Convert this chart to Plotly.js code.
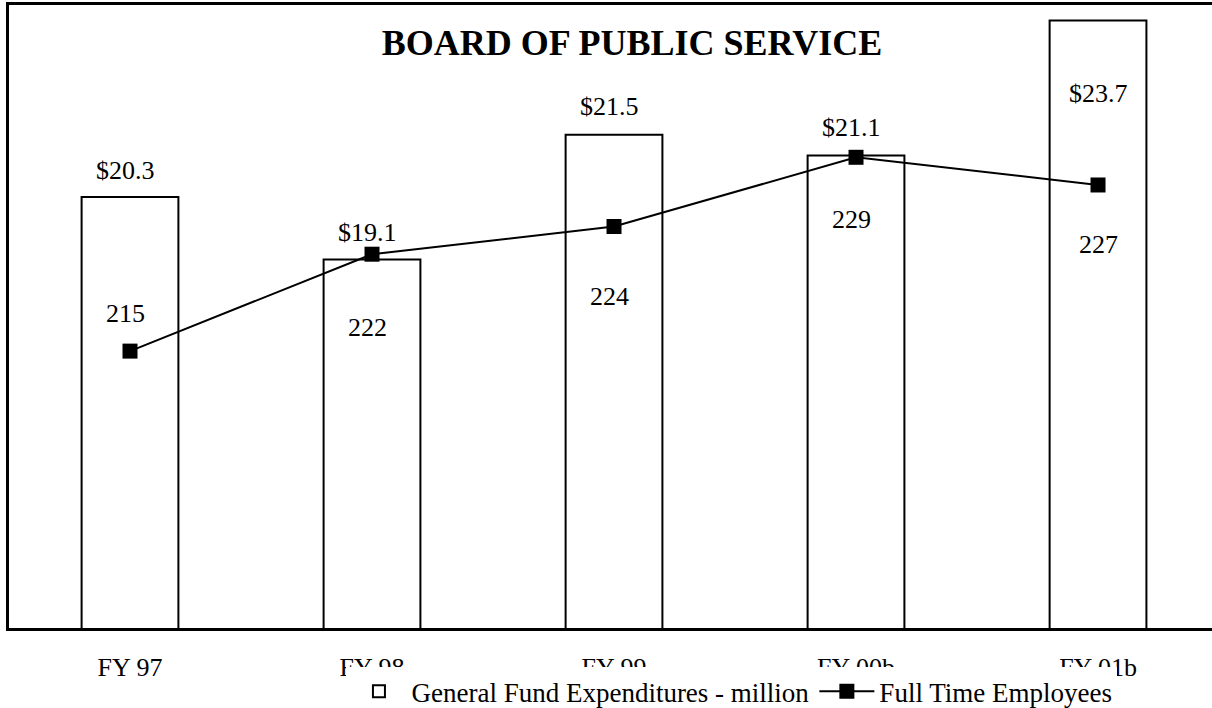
<!DOCTYPE html>
<html>
<head>
<meta charset="utf-8">
<script src="https://cdn.plot.ly/plotly-3.0.1.min.js"></script>
<style>html,body{margin:0;padding:0;background:#fff;}#chart{width:1212px;height:708px;}</style>
</head>
<body>
<div id="chart"></div>
<script>
// ---- data ----
const categories = ["FY 97", "FY 98", "FY 99", "FY 00b", "FY 01b"];
const expenditures = [20.3, 19.1, 21.5, 21.1, 23.7];
const expenditureLabels = ["$20.3", "$19.1", "$21.5", "$21.1", "$23.7"];
const employees = [215, 222, 224, 229, 227];
const employeeLabels = ["215", "222", "224", "229", "227"];

// ---- label placement (pixels, relative to the data point) ----
const expLabelShiftY = [27, 27, 28, 28, -73];
const empLabelShiftY = [38, -73, -70, -62, -60];
const labelShiftX = [-5, -5, -5, -5, 0];

const FONT = "Liberation Serif, Times New Roman, serif";

const bars = {
  type: "bar",
  name: "General Fund Expenditures - million",
  x: categories,
  y: expenditures,
  yaxis: "y",
  width: 0.4,
  marker: {color: "#ffffff", line: {color: "#000000", width: 2}},
  hoverinfo: "skip"
};
const line = {
  type: "scatter",
  mode: "lines+markers",
  name: "Full Time Employees",
  x: categories,
  y: employees,
  yaxis: "y2",
  line: {color: "#000000", width: 2},
  marker: {symbol: "square", size: 15, color: "#000000"},
  cliponaxis: false,
  hoverinfo: "skip"
};

const annotations = [];
categories.forEach((c, i) => {
  annotations.push({
    x: c, y: expenditures[i], xref: "x", yref: "y",
    text: expenditureLabels[i], showarrow: false,
    xanchor: "center", yanchor: "middle",
    xshift: labelShiftX[i], yshift: expLabelShiftY[i],
    font: {family: FONT, size: 26, color: "#000"}
  });
  annotations.push({
    x: c, y: employees[i], xref: "x", yref: "y2",
    text: employeeLabels[i], showarrow: false,
    xanchor: "center", yanchor: "middle",
    xshift: labelShiftX[i], yshift: empLabelShiftY[i],
    font: {family: FONT, size: 26, color: "#000"}
  });
});

const layout = {
  width: 1212, height: 708,
  margin: {l: 9, r: 0, t: 5, b: 80, pad: 0, autoexpand: false},
  paper_bgcolor: "#ffffff",
  plot_bgcolor: "#ffffff",
  showlegend: true,
  font: {family: FONT, size: 26, color: "#000"},
  title: {
    text: "<b>BOARD OF PUBLIC SERVICE</b>",
    font: {family: FONT, size: 36, color: "#000"},
    xref: "container", yref: "container",
    x: 0.5215, xanchor: "center",
    y: 1 - 42 / 708, yanchor: "middle"
  },
  xaxis: {
    type: "category",
    range: [-0.5, 4.471],
    showgrid: false, zeroline: false,
    showline: true, linecolor: "#000", linewidth: 3, mirror: true,
    ticks: "",
    ticklabelstandoff: 14,
    tickfont: {family: FONT, size: 26, color: "#000"},
    fixedrange: true
  },
  yaxis: {
    range: [12, 24],
    showgrid: false, zeroline: false,
    showline: true, linecolor: "#000", linewidth: 3, mirror: false,
    showticklabels: false, ticks: "",
    fixedrange: true
  },
  yaxis2: {
    range: [195, 240],
    overlaying: "y", side: "right",
    showgrid: false, zeroline: false, showline: false,
    showticklabels: false, ticks: "",
    fixedrange: true
  },
  legend: {
    orientation: "h",
    x: 0.2805, xanchor: "left",
    y: -0.063, yanchor: "top",
    bgcolor: "#ffffff",
    borderwidth: 0,
    itemwidth: 55,
    font: {family: FONT, size: 27, color: "#000"},
    traceorder: "normal"
  },
  annotations: annotations,
  bargap: 0.6
};

Plotly.newPlot("chart", [bars, line], layout, {displayModeBar: false, staticPlot: true});
</script>
</body>
</html>
